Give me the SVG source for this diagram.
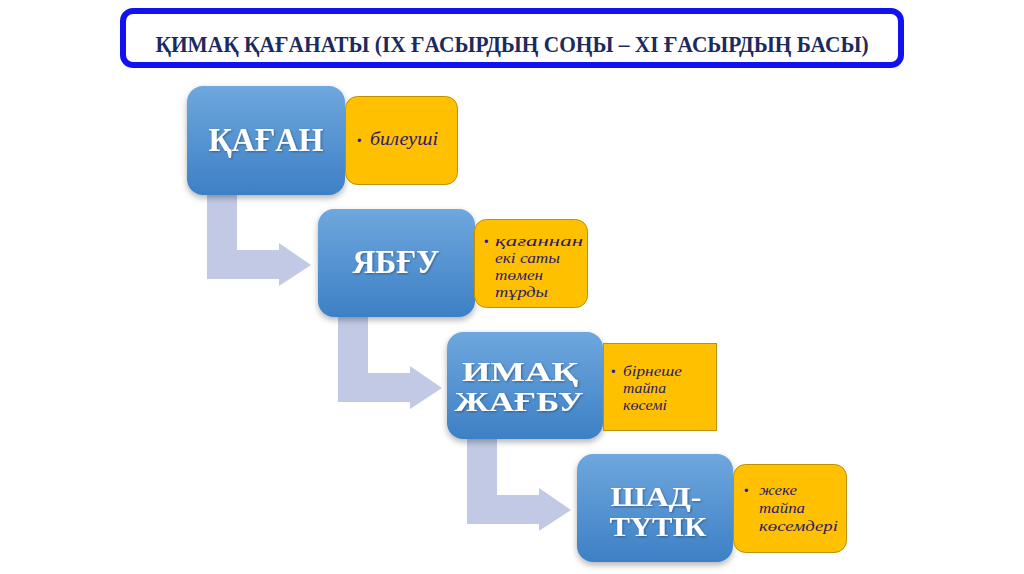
<svg xmlns="http://www.w3.org/2000/svg" width="1024" height="574" viewBox="0 0 1024 574">
<defs>
<linearGradient id="blueGrad" x1="0" y1="0" x2="0" y2="1">
<stop offset="0" stop-color="#6fa7de"/>
<stop offset="1" stop-color="#3d80c5"/>
</linearGradient>
<filter id="shadow" x="-10%" y="-10%" width="120%" height="130%">
<feDropShadow dx="0" dy="3" stdDeviation="3" flood-color="#000" flood-opacity="0.3"/>
</filter>
<filter id="tshadow" x="-10%" y="-10%" width="120%" height="130%">
<feDropShadow dx="1" dy="1" stdDeviation="0.8" flood-color="#000" flood-opacity="0.35"/>
</filter>
</defs>
<style>
.node{fill:url(#blueGrad);filter:url(#shadow)}
.big{font-family:"Liberation Serif","DejaVu Serif",serif;font-weight:bold;font-size:33px;fill:#ffffff;text-anchor:middle;filter:url(#tshadow)}
.big2{font-size:27px}
.note{fill:#ffc000;stroke:#bf9000;stroke-width:1}
.nt{font-family:"Liberation Serif","DejaVu Serif",serif;font-style:italic;font-size:15px;fill:#2b1a70}
.nt1{font-size:19px}
.bul{font-family:"Liberation Sans",Arial,sans-serif;font-size:13px;fill:#1f1fc0}
.arrow{fill:#c2c9e4}
.title{font-family:"Liberation Serif","DejaVu Serif",serif;font-weight:bold;font-size:24px;fill:#1c2a5e;text-anchor:middle}
</style>
<rect width="1024" height="574" fill="#ffffff"/>

<g id="title">
<rect x="123" y="11" width="778" height="54" rx="10" fill="#ffffff" stroke="#1212f0" stroke-width="6"/>
<text class="title" x="512" y="52" textLength="713" lengthAdjust="spacingAndGlyphs">ҚИМАҚ ҚАҒАНАТЫ (IX ҒАСЫРДЫҢ СОҢЫ – XI ҒАСЫРДЫҢ БАСЫ)</text>
</g>

<g id="connectors">
<path class="arrow" d="M207 190 H237 V250 H279 V243 L311 265 L279 286 V279 H207 Z"/>
<path class="arrow" d="M338 313 H368 V373 H410 V366 L442 388 L410 409 V402 H338 Z"/>
<path class="arrow" d="M467 435 H497 V495 H539 V488 L571 510 L539 531 V524 H467 Z"/>
</g>

<g id="node-kagan">
<rect class="node" x="187" y="86" width="158" height="109" rx="16"/>
<text class="big" x="266" y="151" textLength="115" lengthAdjust="spacingAndGlyphs">ҚАҒАН</text>
</g>
<g id="note-kagan">
<rect class="note" x="345.5" y="96.5" width="112" height="88" rx="12"/>
<text class="bul" x="357" y="145">•</text>
<text class="nt nt1" x="370" y="145" textLength="68" lengthAdjust="spacingAndGlyphs">билеуші</text>
</g>

<g id="node-yabgu">
<rect class="node" x="318" y="209" width="157" height="108" rx="16"/>
<text class="big" x="396" y="273" textLength="87" lengthAdjust="spacingAndGlyphs">ЯБҒУ</text>
</g>
<g id="note-yabgu">
<rect class="note" x="474.5" y="219.5" width="113" height="88" rx="12"/>
<text class="bul" x="484" y="246">•</text>
<text class="nt" x="495" y="246" textLength="88" lengthAdjust="spacingAndGlyphs">қағаннан</text>
<text class="nt" x="495" y="263" textLength="65" lengthAdjust="spacingAndGlyphs">екі саты</text>
<text class="nt" x="495" y="280" textLength="48" lengthAdjust="spacingAndGlyphs">төмен</text>
<text class="nt" x="495" y="297" textLength="53" lengthAdjust="spacingAndGlyphs">тұрды</text>
</g>

<g id="node-imak">
<rect class="node" x="447" y="332" width="156" height="107" rx="16"/>
<text class="big big2" x="520" y="381" textLength="116" lengthAdjust="spacingAndGlyphs">ИМАҚ</text>
<text class="big big2" x="519" y="411" textLength="129" lengthAdjust="spacingAndGlyphs">ЖАҒБУ</text>
</g>
<g id="note-imak">
<rect class="note" x="603.5" y="343.5" width="113" height="87"/>
<text class="bul" x="611" y="376">•</text>
<text class="nt" x="623" y="376" textLength="59" lengthAdjust="spacingAndGlyphs">бірнеше</text>
<text class="nt" x="623" y="393" textLength="43" lengthAdjust="spacingAndGlyphs">тайпа</text>
<text class="nt" x="623" y="410" textLength="44" lengthAdjust="spacingAndGlyphs">көсемі</text>
</g>

<g id="node-shad">
<rect class="node" x="577" y="454" width="156" height="108" rx="16"/>
<text class="big big2" x="656" y="506" textLength="91" lengthAdjust="spacingAndGlyphs">ШАД-</text>
<text class="big big2" x="658" y="536" textLength="97" lengthAdjust="spacingAndGlyphs">ТҮТІК</text>
</g>
<g id="note-shad">
<rect class="note" x="733.5" y="464.5" width="113" height="88" rx="12"/>
<text class="bul" x="744" y="495">•</text>
<text class="nt" x="759" y="495" textLength="38" lengthAdjust="spacingAndGlyphs">жеке</text>
<text class="nt" x="759" y="513" textLength="46" lengthAdjust="spacingAndGlyphs">тайпа</text>
<text class="nt" x="759" y="531" textLength="79" lengthAdjust="spacingAndGlyphs">көсемдері</text>
</g>
</svg>
